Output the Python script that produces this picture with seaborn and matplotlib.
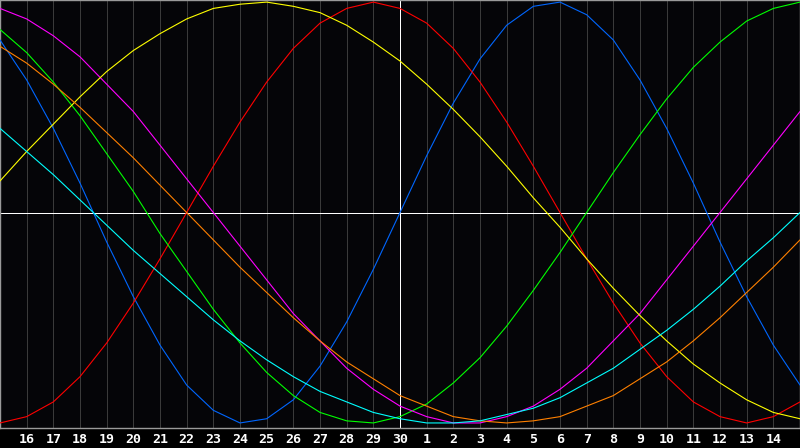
import matplotlib
matplotlib.use("Agg")
import matplotlib.pyplot as plt
import seaborn as sns
import pandas as pd

# days relative to today (0 = the 30th, centre of the chart)
day_offset = list(range(-15, 16))
day_labels = [str(d) for d in list(range(15, 31)) + list(range(1, 16))]

# biorhythm values per day
physical = [0.82, 0.63, 0.40, 0.14, -0.14, -0.40, -0.63, -0.82, -0.94, -1.00, -0.98, -0.89, -0.73, -0.52, -0.27,
            0.00, 0.27, 0.52, 0.73, 0.89, 0.98, 1.00, 0.94, 0.82, 0.63, 0.40, 0.14, -0.14, -0.40, -0.63, -0.82]
emotional = [-1.00, -0.97, -0.90, -0.78, -0.62, -0.43, -0.22, 0.00, 0.22, 0.43, 0.62, 0.78, 0.90, 0.97, 1.00,
             0.97, 0.90, 0.78, 0.62, 0.43, 0.22, 0.00, -0.22, -0.43, -0.62, -0.78, -0.90, -0.97, -1.00, -0.97, -0.90]
intellectual = [0.87, 0.76, 0.62, 0.46, 0.28, 0.10, -0.10, -0.28, -0.46, -0.62, -0.76, -0.87, -0.95, -0.99, -1.00,
                -0.97, -0.91, -0.81, -0.69, -0.54, -0.37, -0.19, 0.00, 0.19, 0.37, 0.54, 0.69, 0.81, 0.91, 0.97, 1.00]
intuitive = [0.97, 0.92, 0.84, 0.74, 0.61, 0.48, 0.32, 0.16, 0.00, -0.16, -0.32, -0.48, -0.61, -0.74, -0.84,
             -0.92, -0.97, -1.00, -1.00, -0.97, -0.92, -0.84, -0.74, -0.61, -0.48, -0.32, -0.16, 0.00, 0.16, 0.32, 0.48]
aesthetic = [0.15, 0.29, 0.42, 0.55, 0.67, 0.77, 0.85, 0.92, 0.97, 0.99, 1.00, 0.98, 0.95, 0.89, 0.81,
             0.72, 0.61, 0.49, 0.36, 0.22, 0.07, -0.07, -0.22, -0.36, -0.49, -0.61, -0.72, -0.81, -0.89, -0.95, -0.98]
awareness = [0.79, 0.71, 0.61, 0.50, 0.38, 0.26, 0.13, 0.00, -0.13, -0.26, -0.38, -0.50, -0.61, -0.71, -0.79,
             -0.87, -0.92, -0.97, -0.99, -1.00, -0.99, -0.97, -0.92, -0.87, -0.79, -0.71, -0.61, -0.50, -0.38, -0.26, -0.13]
spiritual = [0.40, 0.29, 0.18, 0.06, -0.06, -0.18, -0.29, -0.40, -0.51, -0.61, -0.70, -0.78, -0.85, -0.90, -0.95,
             -0.98, -1.00, -1.00, -0.99, -0.96, -0.93, -0.88, -0.81, -0.74, -0.65, -0.56, -0.46, -0.35, -0.23, -0.12, 0.00]

colors = {
    "physical": "#0066ff",
    "emotional": "#ff0000",
    "intellectual": "#00ff00",
    "intuitive": "#ff00ff",
    "aesthetic": "#ffff00",
    "awareness": "#ff8000",
    "spiritual": "#00ffff",
}

df = pd.DataFrame({
    "offset": day_offset,
    "physical": physical,
    "emotional": emotional,
    "intellectual": intellectual,
    "intuitive": intuitive,
    "aesthetic": aesthetic,
    "awareness": awareness,
    "spiritual": spiritual,
})
long_df = df.melt(id_vars="offset", var_name="cycle", value_name="value")

sns.set_style("dark", {"axes.facecolor": "#050508", "figure.facecolor": "#000000"})

fig = plt.figure(figsize=(8, 4.48), dpi=100)
ax = fig.add_axes([0, 20 / 448, 1, 428 / 448])

ax.grid(axis="x", color="#3a3a3a", linewidth=0.72, antialiased=False)
ax.grid(axis="y", visible=False)
ax.axhline(0, color="white", linewidth=0.72, antialiased=False, zorder=1.5)
ax.axvline(0, color="white", linewidth=0.72, antialiased=False, zorder=1.5)

sns.lineplot(data=long_df, x="offset", y="value", hue="cycle", palette=colors,
             linewidth=0.8, legend=False, ax=ax, zorder=3)

ax.set_xlim(-15, 15)
ax.set_ylim(-1.024, 1.01)
ax.set_xticks(day_offset[1:-1])
ax.set_xticklabels(day_labels[1:-1], color="white", fontweight="bold",
                   family="DejaVu Sans Mono", fontsize=9.5)
ax.set_yticks([])
ax.tick_params(axis="x", length=0, pad=3.5)
ax.set_xlabel("")
ax.set_ylabel("")
for side in ["top", "bottom", "left", "right"]:
    ax.spines[side].set_visible(True)
    ax.spines[side].set_color("#9a9a9a")
    ax.spines[side].set_linewidth(1.0)

fig.savefig("out.png", dpi=100, facecolor="#000000")
